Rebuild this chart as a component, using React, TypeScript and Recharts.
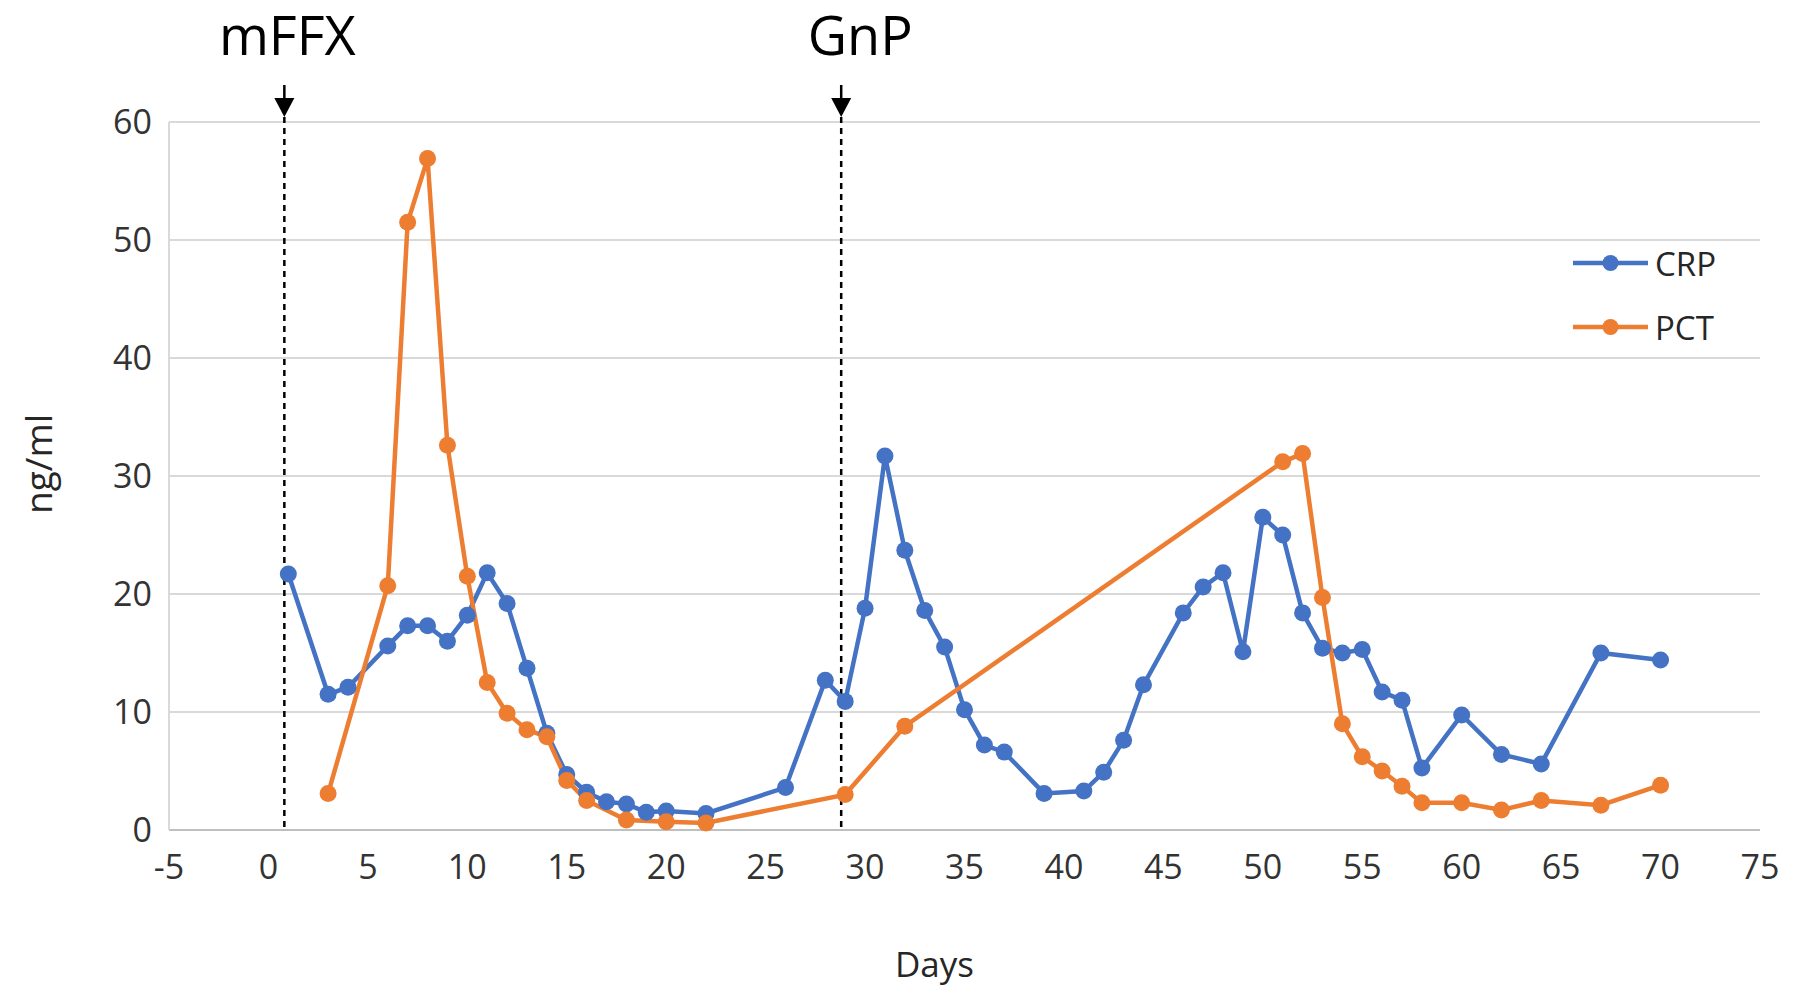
import React from "react";
import { LineChart, Line, XAxis, YAxis, CartesianGrid, ReferenceLine, Legend } from "recharts";

const crpDays = [1, 3, 4, 6, 7, 8, 9, 10, 11, 12, 13, 14, 15, 16, 17, 18, 19, 20, 22, 26, 28, 29, 30, 31, 32, 33, 34, 35, 36, 37, 39, 41, 42, 43, 44, 46, 47, 48, 49, 50, 51, 52, 53, 54, 55, 56, 57, 58, 60, 62, 64, 67, 70];
const crpValues = [21.7, 11.5, 12.1, 15.6, 17.3, 17.3, 16.0, 18.2, 21.8, 19.2, 13.7, 8.2, 4.7, 3.2, 2.4, 2.2, 1.5, 1.6, 1.4, 3.6, 12.7, 10.9, 18.8, 31.7, 23.7, 18.6, 15.5, 10.2, 7.2, 6.6, 3.1, 3.3, 4.9, 7.6, 12.3, 18.4, 20.6, 21.8, 15.1, 26.5, 25.0, 18.4, 15.4, 15.0, 15.3, 11.7, 11.0, 5.25, 9.75, 6.4, 5.6, 15.0, 14.4];

const pctDays = [3, 6, 7, 8, 9, 10, 11, 12, 13, 14, 15, 16, 18, 20, 22, 29, 32, 51, 52, 53, 54, 55, 56, 57, 58, 60, 62, 64, 67, 70];
const pctValues = [3.1, 20.7, 51.5, 56.9, 32.6, 21.5, 12.5, 9.9, 8.5, 7.9, 4.2, 2.5, 0.85, 0.7, 0.6, 3.0, 8.8, 31.2, 31.9, 19.7, 9.0, 6.2, 5.0, 3.7, 2.3, 2.3, 1.7, 2.5, 2.1, 3.8];

const xTicks = [-5, 0, 5, 10, 15, 20, 25, 30, 35, 40, 45, 50, 55, 60, 65, 70, 75];
const yTicks = [0, 10, 20, 30, 40, 50, 60];

const events = [
  { day: 0.8, label: "mFFX", dx: 3 },
  { day: 28.8, label: "GnP", dx: 19 },
];

const crpData = crpDays.map((d, i) => ({ day: d, value: crpValues[i] }));
const pctData = pctDays.map((d, i) => ({ day: d, value: pctValues[i] }));

const BLUE = "#4472C4";
const ORANGE = "#ED7D31";
const FONT = "'Open Sans', 'Noto Sans', sans-serif";

const arrowShape = (props: any) => {
  const { x1, y1, x2, y2 } = props;
  const top = Math.min(y1, y2);
  const bottom = Math.max(y1, y2);
  const x = x1;
  return (
    <g>
      <line x1={x} y1={top - 37} x2={x} y2={top - 20} stroke="#000" strokeWidth={2.5} />
      <polygon points={`${x - 10},${top - 24} ${x + 10},${top - 24} ${x},${top - 5}`} fill="#000" />
      <line x1={x} y1={top - 5} x2={x2} y2={bottom} stroke="#000" strokeWidth={2.5} strokeDasharray="6 5" />
    </g>
  );
};

const LegendContent = (props: any) => {
  const { payload } = props;
  return (
    <div style={{ fontFamily: FONT }}>
      {(payload || []).map((entry: any) => (
        <div key={entry.value} style={{ display: "flex", alignItems: "center", height: 64 }}>
          <svg width={75} height={20}>
            <line x1={0} y1={10} x2={75} y2={10} stroke={entry.color} strokeWidth={4.5} />
            <circle cx={37.5} cy={10} r={8} fill={entry.color} />
          </svg>
          <span style={{ marginLeft: 7, fontSize: 33, color: "#262626", lineHeight: 1 }}>{entry.value}</span>
        </div>
      ))}
    </div>
  );
};

export default function App() {
  return (
    <div style={{ position: "absolute", left: 0, top: 0, width: 1795, height: 1000, background: "#fff" }}>
      <LineChart width={1795} height={1000} margin={{ top: 122, right: 35, bottom: 110, left: 0 }} style={{ overflow: "visible" }}>
        <CartesianGrid horizontal={true} vertical={false} stroke="#d9d9d9" strokeWidth={2} />
        <XAxis
          dataKey="day"
          type="number"
          domain={[-5, 75]}
          ticks={xTicks}
          allowDataOverflow
          height={60}
          tickLine={false}
          tickSize={6}
          tickMargin={19}
          axisLine={{ stroke: "#bfbfbf", strokeWidth: 2 }}
          tick={{ fontSize: 34, fill: "#333", fontFamily: FONT }}
          label={{
            content: (p: any) => {
              const vb = p.viewBox || { x: 169, y: 830, width: 1591 };
              return (
                <text x={vb.x + vb.width / 2 - 30} y={vb.y + 147} textAnchor="middle" fontSize={35} fontFamily={FONT} fill="#262626">
                  Days
                </text>
              );
            },
          }}
        />
        <YAxis
          type="number"
          domain={[0, 60]}
          ticks={yTicks}
          width={169}
          tickLine={false}
          tickSize={6}
          tickMargin={11}
          axisLine={{ stroke: "#d9d9d9", strokeWidth: 2 }}
          tick={{ fontSize: 34, fill: "#333", fontFamily: FONT }}
          label={{
            content: (p: any) => {
              const vb = p.viewBox || { x: 0, y: 122, height: 708 };
              const cx = vb.x + 37;
              const cy = vb.y + vb.height / 2 - 12;
              return (
                <text
                  x={cx}
                  y={cy}
                  transform={`rotate(-90, ${cx}, ${cy})`}
                  textAnchor="middle"
                  dominantBaseline="central"
                  fontSize={37}
                  fontFamily={FONT}
                  fill="#262626"
                >
                  ng/ml
                </text>
              );
            },
          }}
        />
        <Legend
          layout="vertical"
          align="center"
          verticalAlign="middle"
          content={<LegendContent />}
          wrapperStyle={{ position: "absolute", left: 1573, top: 231, width: 200, height: 130 }}
        />
        {events.map((e) => (
          <ReferenceLine
            key={e.label}
            x={e.day}
            stroke="#000"
            shape={arrowShape}
            label={{ value: e.label, position: "top", offset: 67, dx: e.dx, fontSize: 54, fontFamily: FONT, fill: "#000" }}
          />
        ))}
        <Line
          data={crpData}
          dataKey="value"
          name="CRP"
          stroke={BLUE}
          strokeWidth={4.5}
          dot={{ r: 8.5, fill: BLUE, stroke: BLUE, strokeWidth: 0 }}
          activeDot={false}
          isAnimationActive={false}
        />
        <Line
          data={pctData}
          dataKey="value"
          name="PCT"
          stroke={ORANGE}
          strokeWidth={4.5}
          dot={{ r: 8.5, fill: ORANGE, stroke: ORANGE, strokeWidth: 0 }}
          activeDot={false}
          isAnimationActive={false}
        />
      </LineChart>
    </div>
  );
}
